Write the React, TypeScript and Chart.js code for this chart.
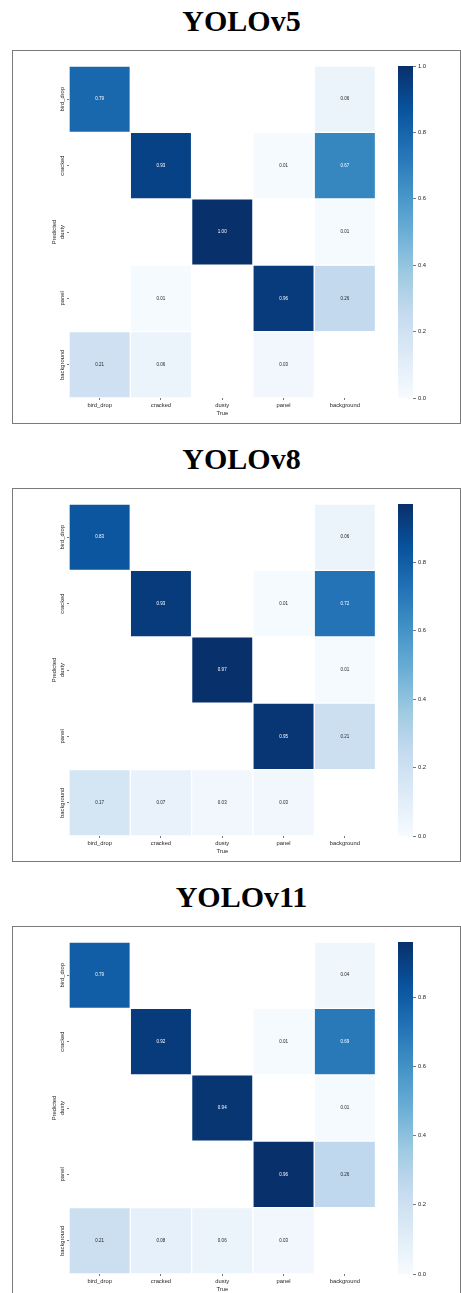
import React, { useEffect, useRef } from 'react';
import { Chart, registerables } from 'chart.js';

Chart.register(...registerables);

// ---- data ----
const classes = ['bird_drop', 'cracked', 'dusty', 'panel', 'background'];
const modelNames = ['YOLOv5', 'YOLOv8', 'YOLOv11'];

// rows = Predicted, columns = True (0 = empty cell)
const yolov5Rows = [
  [0.79, 0, 0, 0, 0.06],
  [0, 0.93, 0, 0.01, 0.67],
  [0, 0, 1.0, 0, 0.01],
  [0, 0.01, 0, 0.96, 0.26],
  [0.21, 0.06, 0, 0.03, 0],
];
const yolov8Rows = [
  [0.83, 0, 0, 0, 0.06],
  [0, 0.93, 0, 0.01, 0.72],
  [0, 0, 0.97, 0, 0.01],
  [0, 0, 0, 0.95, 0.21],
  [0.17, 0.07, 0.03, 0.03, 0],
];
const yolov11Rows = [
  [0.79, 0, 0, 0, 0.04],
  [0, 0.92, 0, 0.01, 0.69],
  [0, 0, 0.94, 0, 0.01],
  [0, 0, 0, 0.96, 0.26],
  [0.21, 0.08, 0.06, 0.03, 0],
];
const colorbarStep = 0.2;

// ---- style ----
const BLUES: number[][] = [
  [247, 251, 255],
  [222, 235, 247],
  [198, 219, 239],
  [158, 202, 225],
  [107, 174, 214],
  [66, 146, 198],
  [33, 113, 181],
  [8, 81, 156],
  [8, 48, 107],
];
const FONT = '"Liberation Sans", Arial, sans-serif';
const TXT = '#262626';
const TICKC = '#555555';

function blues(t: number): number[] {
  const c = Math.max(0, Math.min(1, t)) * (BLUES.length - 1);
  const i = Math.min(BLUES.length - 2, Math.floor(c));
  const f = c - i;
  return BLUES[i].map((a, k) => a + (BLUES[i + 1][k] - a) * f);
}
function rgbStr(c: number[]) {
  return `rgb(${Math.round(c[0])},${Math.round(c[1])},${Math.round(c[2])})`;
}
function lum(c: number[]) {
  const l = c.map((v) => {
    const s = v / 255;
    return s <= 0.03928 ? s / 12.92 : Math.pow((s + 0.055) / 1.055, 2.4);
  });
  return 0.2126 * l[0] + 0.7152 * l[1] + 0.0722 * l[2];
}

function Panel({ offset, title, rows }: { offset: number; title: string; rows: number[][] }) {
  const heatRef = useRef<HTMLCanvasElement>(null);
  const barRef = useRef<HTMLCanvasElement>(null);
  const boxTop = offset + 50;

  useEffect(() => {
    const vmax = Math.max(...rows.flat());
    const annot = {
      id: 'annot',
      afterDatasetsDraw(chart: any) {
        const ctx = chart.ctx;
        ctx.save();
        ctx.font = `4.5px ${FONT}`;
        ctx.textAlign = 'center';
        ctx.textBaseline = 'middle';
        rows.forEach((row, i) => {
          const meta = chart.getDatasetMeta(i);
          row.forEach((v, j) => {
            if (!(v > 0)) return;
            const el = meta.data[j];
            const p = el.getProps(['x', 'y', 'base'], true);
            const c = blues(v / vmax);
            ctx.fillStyle = lum(c) > 0.408 ? TXT : '#ffffff';
            ctx.fillText(v.toFixed(2), p.x, (p.y + p.base) / 2);
          });
        });
        ctx.restore();
      },
      afterDraw(chart: any) {
        const ctx = chart.ctx;
        const ys = chart.scales.y;
        ctx.save();
        ctx.font = `5.8px ${FONT}`;
        ctx.fillStyle = TXT;
        ctx.textAlign = 'center';
        ctx.textBaseline = 'middle';
        classes.forEach((c, i) => {
          ctx.save();
          ctx.translate(50.3, ys.getPixelForValue(i + 0.5));
          ctx.rotate(-Math.PI / 2);
          ctx.fillText(c, 0, 0);
          ctx.restore();
        });
        ctx.restore();
      },
    };

    const heat = new Chart(heatRef.current!, {
      type: 'bar',
      data: {
        labels: classes,
        datasets: rows.map((row, i) => ({
          label: classes[i],
          data: row.map((v) => (v > 0 ? [i, i + 1] : null)) as any,
          backgroundColor: row.map((v) => rgbStr(blues(v / vmax))),
          borderColor: 'rgba(255,255,255,0.55)',
          borderWidth: 1,
          borderSkipped: false,
          grouped: false,
          barPercentage: 1,
          categoryPercentage: 1,
        })),
      },
      options: {
        responsive: false,
        animation: false,
        devicePixelRatio: 1,
        layout: { padding: { top: 16, right: 8.5, left: 0, bottom: 0 } },
        plugins: { legend: { display: false }, tooltip: { enabled: false } },
        scales: {
          x: {
            type: 'category',
            offset: true,
            afterFit: (s: any) => {
              s.height = 24;
            },
            ticks: { font: { size: 5.8, family: FONT }, color: TXT, padding: 2, maxRotation: 0, minRotation: 0, autoSkip: false },
            grid: { drawOnChartArea: false, tickLength: 2, color: TICKC, lineWidth: 0.8, offset: false },
            border: { display: false },
            title: { display: true, text: 'True', font: { size: 5.8, family: FONT }, color: TXT, padding: { top: 0, bottom: 5.4 } },
          },
          y: {
            type: 'linear',
            min: 0,
            max: 5,
            reverse: true,
            afterBuildTicks: (s: any) => {
              s.ticks = classes.map((_, i) => ({ value: i + 0.5 }));
            },
            afterFit: (s: any) => {
              s.width = 57;
            },
            ticks: { display: false },
            grid: { drawOnChartArea: false, tickLength: 2, color: TICKC, lineWidth: 0.8 },
            border: { display: false },
            title: { display: true, text: 'Predicted', font: { size: 5.8, family: FONT }, color: TXT, padding: { top: 39.4, bottom: 0 } },
          },
        },
      } as any,
      plugins: [annot],
    });

    const bar = new Chart(barRef.current!, {
      type: 'bar',
      data: {
        labels: [''],
        datasets: [
          {
            data: [[0, vmax]] as any,
            backgroundColor: (c: any) => {
              const { ctx, chartArea } = c.chart;
              if (!chartArea) return 'rgba(0,0,0,0)';
              const g = ctx.createLinearGradient(0, chartArea.bottom, 0, chartArea.top);
              BLUES.forEach((s, k) => g.addColorStop(k / (BLUES.length - 1), rgbStr(s)));
              return g;
            },
            borderWidth: 0,
            borderSkipped: false,
            barPercentage: 1,
            categoryPercentage: 1,
          },
        ],
      },
      options: {
        responsive: false,
        animation: false,
        devicePixelRatio: 1,
        layout: { padding: { left: 8, top: 16, bottom: 24, right: 0 } },
        plugins: { legend: { display: false }, tooltip: { enabled: false } },
        scales: {
          x: { display: false },
          y: {
            position: 'right',
            min: 0,
            max: vmax,
            afterFit: (s: any) => {
              s.width = 33;
            },
            ticks: {
              stepSize: colorbarStep,
              includeBounds: false,
              callback: (v: any) => Number(v).toFixed(1),
              font: { size: 5.8, family: FONT },
              color: TXT,
              padding: 2,
            },
            grid: { drawOnChartArea: false, tickLength: 3, color: TICKC, lineWidth: 0.8 },
            border: { display: false },
          },
        },
      } as any,
    });

    return () => {
      heat.destroy();
      bar.destroy();
    };
  }, [rows]);

  return (
    <>
      <div
        style={{
          position: 'absolute',
          left: 0,
          width: 483,
          top: offset + 6,
          textAlign: 'center',
          font: 'bold 30px "Liberation Serif", "Times New Roman", serif',
          lineHeight: '30px',
          color: '#000',
          whiteSpace: 'nowrap',
        }}
      >
        {title}
      </div>
      <div
        style={{
          position: 'absolute',
          left: 12,
          top: boxTop,
          width: 449,
          height: 374,
          boxSizing: 'border-box',
          border: '1px solid #7a7a7a',
        }}
      />
      <canvas ref={heatRef} width={372} height={372} style={{ position: 'absolute', left: 12, top: boxTop, width: 372, height: 372 }} />
      <canvas ref={barRef} width={56} height={372} style={{ position: 'absolute', left: 390, top: boxTop, width: 56, height: 372 }} />
    </>
  );
}

export default function App() {
  const all = [yolov5Rows, yolov8Rows, yolov11Rows];
  const offsets = [0, 438, 876];
  return (
    <div style={{ position: 'absolute', left: 0, top: 0, width: 461, height: 1293, overflow: 'hidden', background: '#fff' }}>
      {all.map((rows, k) => (
        <Panel key={k} offset={offsets[k]} title={modelNames[k]} rows={rows} />
      ))}
    </div>
  );
}
